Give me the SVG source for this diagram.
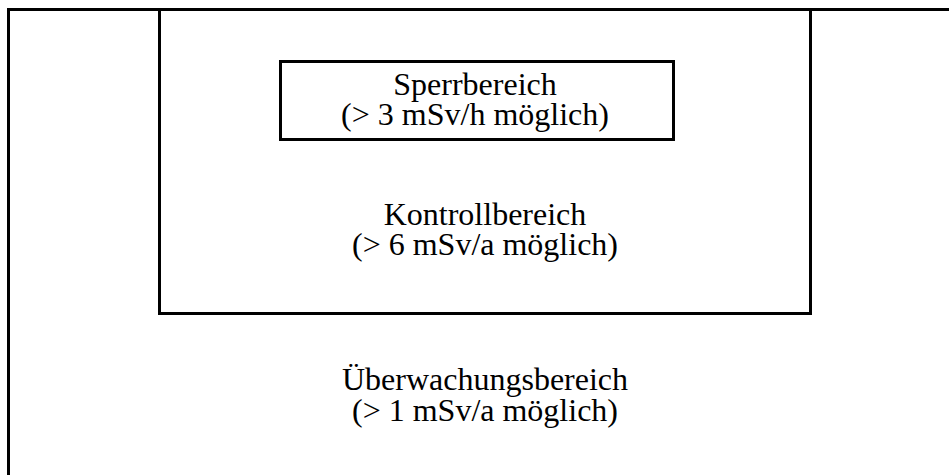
<svg xmlns="http://www.w3.org/2000/svg" width="949" height="475" viewBox="0 0 949 475">
<style>
.frame{fill:none;stroke:#000;stroke-width:3}
.lbl{font-family:"Liberation Serif","Times New Roman",serif;font-size:32px;fill:#000;text-anchor:middle}
</style>
<rect x="0" y="0" width="949" height="475" fill="#fff"/>
<g id="ueberwachungsbereich">
<rect class="frame" x="8.5" y="9.5" width="960" height="490"/>
<text class="lbl" x="485" y="390">Überwachungsbereich<tspan x="485" y="421">(&gt; 1 mSv/a möglich)</tspan></text>
</g>
<g id="kontrollbereich">
<rect class="frame" x="159.5" y="9.5" width="651" height="304"/>
<text class="lbl" x="485" y="225">Kontrollbereich<tspan x="485" y="255">(&gt; 6 mSv/a möglich)</tspan></text>
</g>
<g id="sperrbereich">
<rect class="frame" x="280.5" y="61.5" width="393" height="78" fill="#f0f0f0"/>
<text class="lbl" x="475" y="95">Sperrbereich<tspan x="475" y="125">(&gt; 3 mSv/h möglich)</tspan></text>
</g>
<g id="connectors"/>
</svg>
